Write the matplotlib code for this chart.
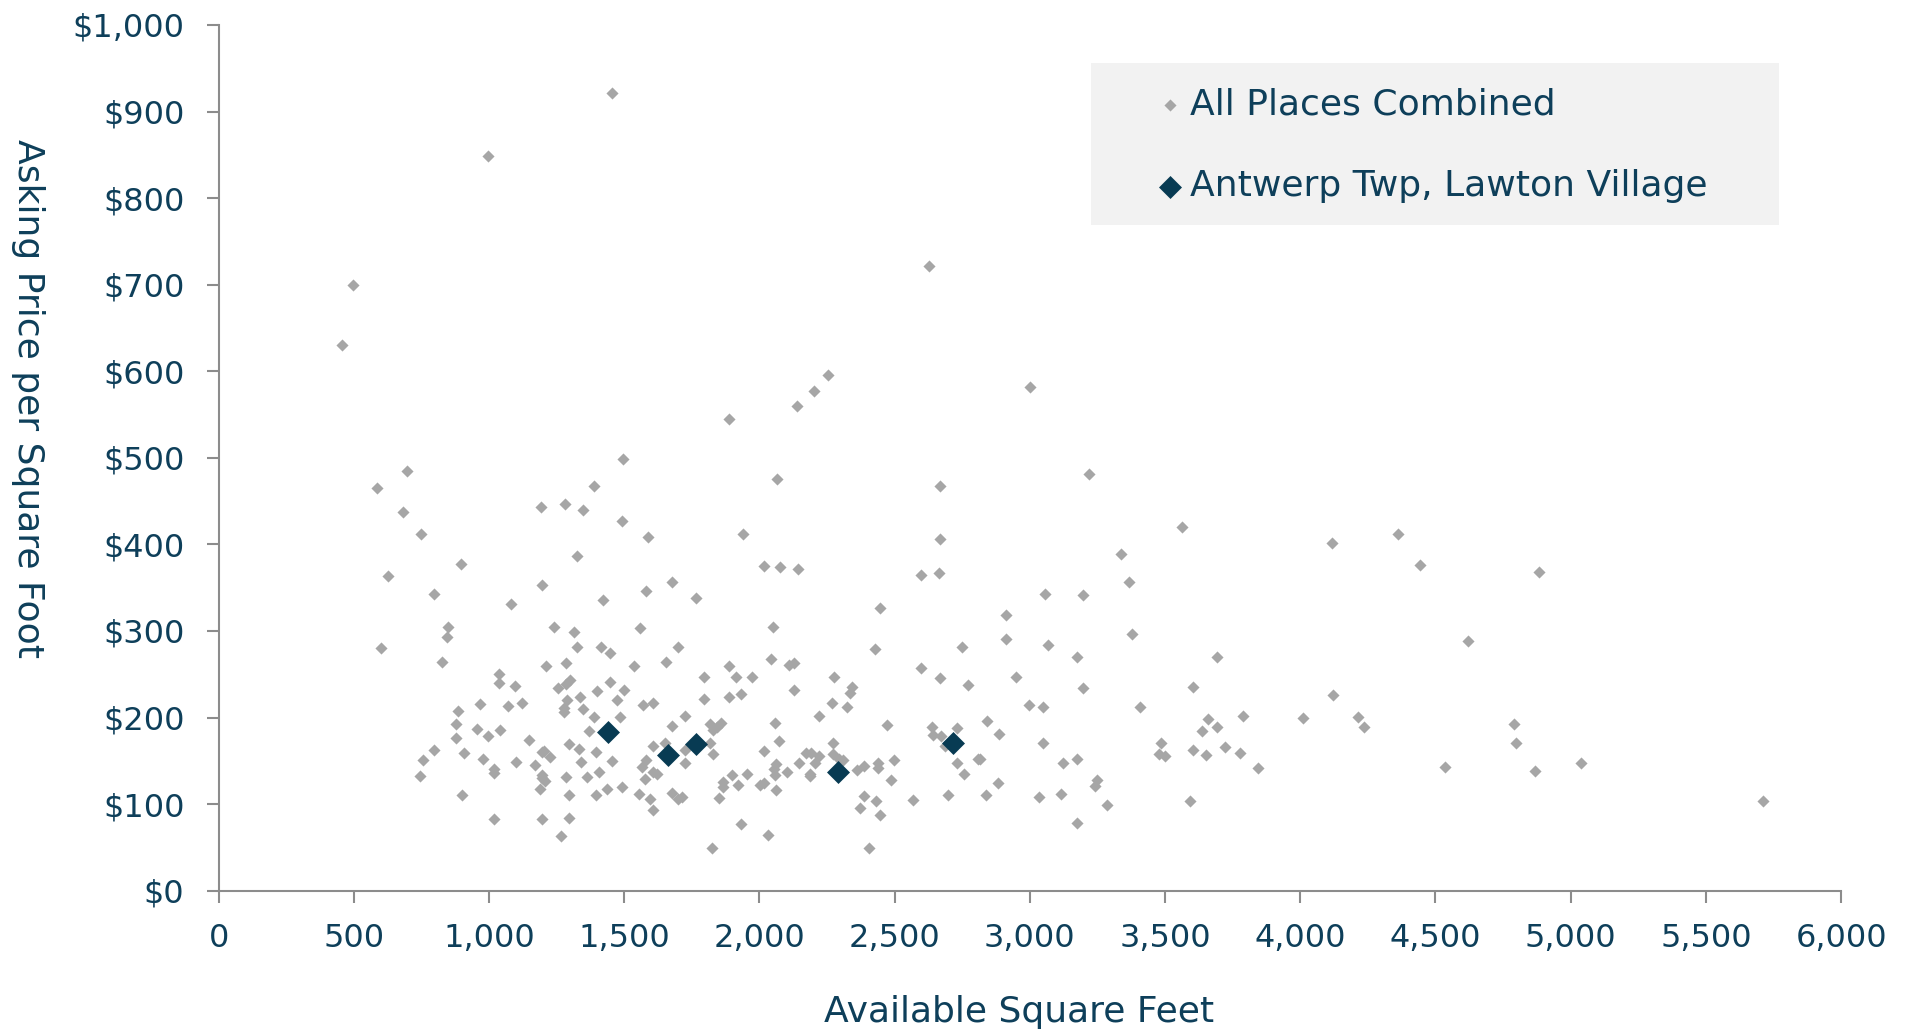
import matplotlib
matplotlib.use("Agg")
import matplotlib.pyplot as plt
from matplotlib.patches import Rectangle
from matplotlib.ticker import FuncFormatter, MultipleLocator

# ---------------- data ----------------
all_sqft = [
    495, 455, 995, 1456, 2254, 2200, 2137, 1886, 2628, 3000,
    1495, 695, 585, 1387, 1191, 1281, 1346, 682, 1491, 747,
    1586, 1325, 895, 625, 1196, 1581, 796, 1420, 1081, 1241,
    850, 1315, 845, 1560, 600, 1325, 1415, 1446, 826, 1286,
    1210, 1536, 1653, 1035, 1035, 1300, 1286, 1097, 1256, 1446,
    1400, 1500, 1290, 1336, 1472, 966, 1070, 1122, 886, 1276,
    1276, 1346, 1387, 1485, 1570, 1606, 876, 956, 996, 1040,
    876, 1371, 1146, 1297, 1331, 1606, 796, 756, 906, 1196,
    1203, 1225, 976, 1101, 1341, 1395, 1456, 1581, 1567, 1171,
    1020, 1020, 1607, 1621, 746, 1196, 1208, 1196, 1286, 1361,
    1408, 1575, 1189, 1436, 1491, 901, 1297, 1395, 1555, 1596,
    1606, 1020, 1196, 1297, 1266,
    1650, 1675, 1766, 1697, 1675, 1724, 1724, 1724, 1796, 1796,
    1817, 1842, 1856, 1829, 1817, 1827, 1675, 1700, 1715, 1825,
    1851, 1866, 1866, 1897, 1922, 1954, 1886, 1912, 1971, 1886,
    1932, 1938, 2066, 2017, 2077, 2141, 2051, 2042, 2110, 2128,
    2126, 2056, 2072, 2017, 2061, 2054, 2056, 2002, 2017, 2061,
    2100, 2146, 2171, 2192, 2206, 2222, 2187, 2187, 1932, 2031,
    2222, 2267, 2275, 2322, 2341, 2335, 2271, 2271, 2293, 2310,
    2359, 2388, 2439, 2439, 2496, 2486, 2388, 2430, 2373, 2447,
    2406, 2471, 2427, 2447, 2566, 2597, 2663, 2666, 2666, 2597,
    2666, 2637, 2643, 2671, 2686, 2732, 2732, 2756, 2697, 2748,
    2772, 2843, 2887, 2882, 2807, 2815, 2838, 2911, 2911, 2947,
    2997, 3047, 3047, 3057, 3067, 3032, 3122, 3116, 3176, 3176,
    3196, 3196, 3176, 3217, 3247, 3241,
    3337, 3367, 3376, 3562, 3407, 3287, 3486, 3476, 3498, 3592,
    3603, 3692, 3657, 3637, 3692, 3603, 3652, 3721, 3787, 3778,
    3842, 4011, 4117, 4122, 4212, 4237, 4362, 4442, 4537, 4622,
    4792, 4797,
    4883, 4867, 5039, 5713,
]
all_price = [
    700, 630, 849, 921, 596, 577, 560, 545, 722, 582,
    499, 485, 465, 467, 443, 447, 440, 437, 427, 412,
    408, 387, 377, 364, 353, 346, 343, 336, 331, 305,
    304, 299, 293, 303, 280, 281, 281, 275, 264, 263,
    259, 259, 264, 250, 240, 243, 239, 236, 234, 241,
    231, 232, 220, 224, 220, 216, 213, 217, 207, 211,
    206, 210, 201, 201, 215, 217, 193, 187, 179, 186,
    176, 185, 174, 169, 164, 167, 162, 151, 159, 160,
    161, 154, 152, 149, 149, 160, 150, 151, 143, 145,
    141, 136, 137, 135, 133, 134, 127, 130, 131, 131,
    137, 129, 118, 117, 120, 110, 111, 110, 112, 106,
    93, 83, 83, 84, 63,
    170, 356, 338, 282, 190, 202, 162, 147, 247, 221,
    192, 189, 194, 186, 170, 158, 113, 106, 108, 49,
    107, 125, 120, 134, 122, 135, 259, 247, 247, 224,
    227, 412, 475, 375, 374, 372, 304, 268, 261, 263,
    232, 194, 173, 161, 146, 141, 134, 122, 124, 116,
    137, 148, 159, 159, 147, 155, 135, 132, 77, 64,
    202, 217, 247, 212, 235, 228, 171, 158, 152, 151,
    139, 144, 147, 142, 151, 128, 109, 104, 95, 87,
    49, 191, 279, 326, 105, 365, 367, 406, 468, 257,
    246, 189, 180, 179, 167, 188, 148, 135, 111, 281,
    238, 196, 181, 124, 152, 152, 110, 318, 291, 247,
    214, 212, 171, 343, 284, 108, 147, 112, 152, 270,
    341, 234, 78, 481, 128, 121,
    389, 356, 296, 420, 212, 99, 171, 158, 155, 104,
    235, 270, 198, 185, 189, 162, 157, 166, 202, 159,
    142, 199, 402, 226, 201, 189, 412, 376, 143, 288,
    193, 171,
    368, 138, 148, 104,
]
local_sqft = [1441, 1660, 1766, 2291, 2716]
local_price = [183, 157, 169, 137, 171]

series_labels = ["All Places Combined", "Antwerp Twp, Lawton Village"]
x_label = "Available Square Feet"
y_label = "Asking Price per Square Foot"

# ---------------- style ----------------
TEXT = "#0E3F5A"
DARK = "#083B53"
GRAY = "#A6A6A6"
AXC = "#8C8C8C"
plt.rcParams["font.family"] = ["DejaVu Sans"]

fig = plt.figure(figsize=(19.13, 10.33), dpi=100)
ax = fig.add_axes([0.1143, 0.1378, 0.8481, 0.8380])

ax.scatter(all_sqft, all_price, marker="D", s=38, color=GRAY, linewidths=0,
           label=series_labels[0], zorder=3)
ax.scatter(local_sqft, local_price, marker="D", s=137, color=DARK, linewidths=0,
           label=series_labels[1], zorder=4)

ax.set_xlim(0, 6000)
ax.set_ylim(0, 1000)
ax.xaxis.set_major_locator(MultipleLocator(500))
ax.yaxis.set_major_locator(MultipleLocator(100))
ax.xaxis.set_major_formatter(FuncFormatter(lambda v, p: f"{v:,.0f}"))
ax.yaxis.set_major_formatter(FuncFormatter(lambda v, p: f"${v:,.0f}"))

for s in ["top", "right"]:
    ax.spines[s].set_visible(False)
for s in ["left", "bottom"]:
    ax.spines[s].set_color(AXC)
    ax.spines[s].set_linewidth(1.5)

ax.tick_params(axis="both", colors=AXC, width=1.5, length=8.6, direction="out",
               labelcolor=TEXT, labelsize=23)
ax.tick_params(axis="y", pad=16)
ax.tick_params(axis="x", pad=15)

ax.set_xlabel(x_label, fontsize=26, color=TEXT, va="top", ha="center")
ax.xaxis.set_label_coords(0.4933, -0.1205)
ax.set_ylabel(y_label, fontsize=26, color=TEXT, rotation=270,
              va="center", ha="center", rotation_mode="default")
ax.yaxis.set_label_coords(-0.1175, 0.569)

# legend background panel
ax.add_patch(Rectangle((0.5377, 0.769), 0.4241, 0.187, transform=ax.transAxes,
                       facecolor="#F2F2F2", edgecolor="none", zorder=1,
                       clip_on=False))
leg = ax.legend(loc="upper left", bbox_to_anchor=(0.5784, 0.9283),
                frameon=False, fontsize=26, labelcolor=TEXT,
                handlelength=0.7, handletextpad=0.2, borderpad=0,
                labelspacing=1.34, borderaxespad=0, scatterpoints=1)
leg.set_zorder(5)

fig.savefig("out.png", dpi=100)
